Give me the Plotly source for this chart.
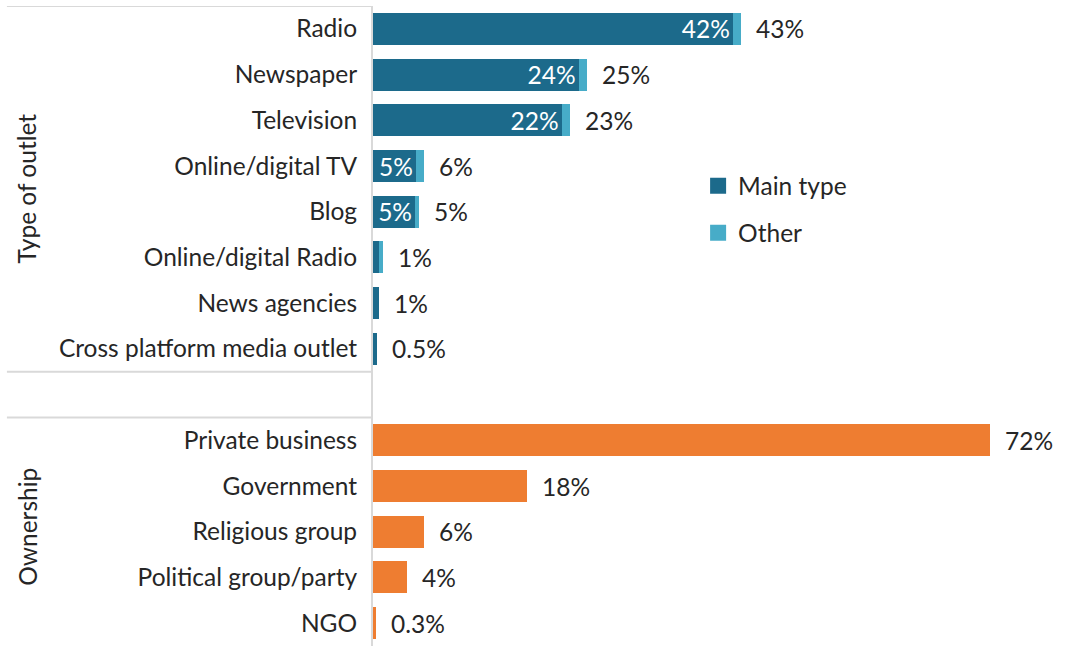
import plotly.graph_objects as go

# Outlet types: main share and additional "other" share (percent)
outlet_types = ["Radio", "Newspaper", "Television", "Online/digital TV", "Blog",
                "Online/digital Radio", "News agencies", "Cross platform media outlet"]
main_share = [42, 24, 22, 5, 4.9, 0.7, 0.7, 0.5]
other_share = [1, 1, 1, 1, 0.5, 0.5, 0, 0]
main_labels = ["42%", "24%", "22%", "5%", "5%", "", "", ""]
total_labels = ["43%", "25%", "23%", "6%", "5%", "1%", "1%", "0.5%"]

# Ownership of outlets (percent)
ownership = ["Private business", "Government", "Religious group",
             "Political group/party", "NGO"]
ownership_share = [72, 18, 6, 4, 0.3]
ownership_labels = ["72%", "18%", "6%", "4%", "0.3%"]

MAIN = "#1c6a8b"
OTHER = "#47acc8"
ORANGE = "#ee7d31"
TEXT = "#262626"
LINE = "#d9d9d9"
FONT = "Lato"
FS = 24.5

# Row positions: outlets first, one empty row, then ownership
y_out = list(range(len(outlet_types)))
y_own = [len(outlet_types) + 1 + i for i in range(len(ownership))]
totals = [m + o for m, o in zip(main_share, other_share)]

fig = go.Figure()
fig.add_trace(go.Bar(
    y=y_out, x=main_share, orientation="h", name="Main type",
    marker=dict(color=MAIN, line=dict(width=0)), width=0.7,
    text=main_labels, textposition="inside", insidetextanchor="end",
    textfont=dict(color="white", size=FS, family=FONT),
    constraintext="none", showlegend=False,
))
fig.add_trace(go.Bar(
    y=y_out, x=other_share, orientation="h", name="Other",
    marker=dict(color=OTHER, line=dict(width=0)), width=0.7,
    showlegend=False,
))
fig.add_trace(go.Bar(
    y=y_own, x=ownership_share, orientation="h", showlegend=False,
    marker=dict(color=ORANGE, line=dict(width=0)), width=0.7,
))

# Legend entries with large square swatches
for name, color, grp in [("Main type", MAIN, "a"), ("Other", OTHER, "b")]:
    fig.add_trace(go.Scatter(
        x=[None], y=[None], mode="markers", name=name, legendgroup=grp,
        marker=dict(symbol="square", size=16, color=color),
    ))

# Value labels to the right of each bar
for y, x, t in zip(y_out + y_own, totals + ownership_share,
                   total_labels + ownership_labels):
    fig.add_annotation(x=x, y=y, text=t, showarrow=False, xanchor="left",
                       xshift=13, font=dict(size=FS, color=TEXT, family=FONT))

# Group titles
fig.add_annotation(x=-0.507, xref="paper", xanchor="center",
                   y=(len(outlet_types) - 1) / 2, yref="y",
                   text="Type of outlet", textangle=-90, showarrow=False,
                   font=dict(size=FS, color=TEXT, family=FONT))
fig.add_annotation(x=-0.507, xref="paper", xanchor="center",
                   y=y_own[0] + 1.9, yref="y",
                   text="Ownership", textangle=-90, showarrow=False,
                   font=dict(size=FS, color=TEXT, family=FONT))

# Horizontal separators in the label column
for yy in [-0.5, len(outlet_types) - 0.5, len(outlet_types) + 0.5]:
    fig.add_shape(type="line", xref="paper", yref="y", x0=-0.536, x1=0,
                  y0=yy, y1=yy, line=dict(color=LINE, width=2))

fig.update_layout(
    width=1066, height=646,
    margin=dict(l=373, r=10, t=6, b=0),
    paper_bgcolor="white", plot_bgcolor="white",
    barmode="stack", bargap=0.3,
    font=dict(family=FONT, size=FS, color=TEXT),
    showlegend=True,
    legend=dict(x=0.476, y=0.754, xanchor="left", yanchor="top",
                traceorder="grouped", tracegroupgap=12, itemwidth=30,
                font=dict(size=FS, color=TEXT, family=FONT),
                bgcolor="rgba(0,0,0,0)"),
    xaxis=dict(range=[0, 79.7], visible=False, fixedrange=True),
    yaxis=dict(
        range=[len(outlet_types) + len(ownership) + 0.5, -0.5],
        tickmode="array", tickvals=y_out + y_own,
        ticktext=outlet_types + ownership,
        showline=True, linecolor=LINE, linewidth=2,
        showgrid=False, zeroline=False, ticks="",
        ticklabelstandoff=9,
        tickfont=dict(size=FS, color=TEXT, family=FONT),
    ),
)

fig.write_html("out.html")
